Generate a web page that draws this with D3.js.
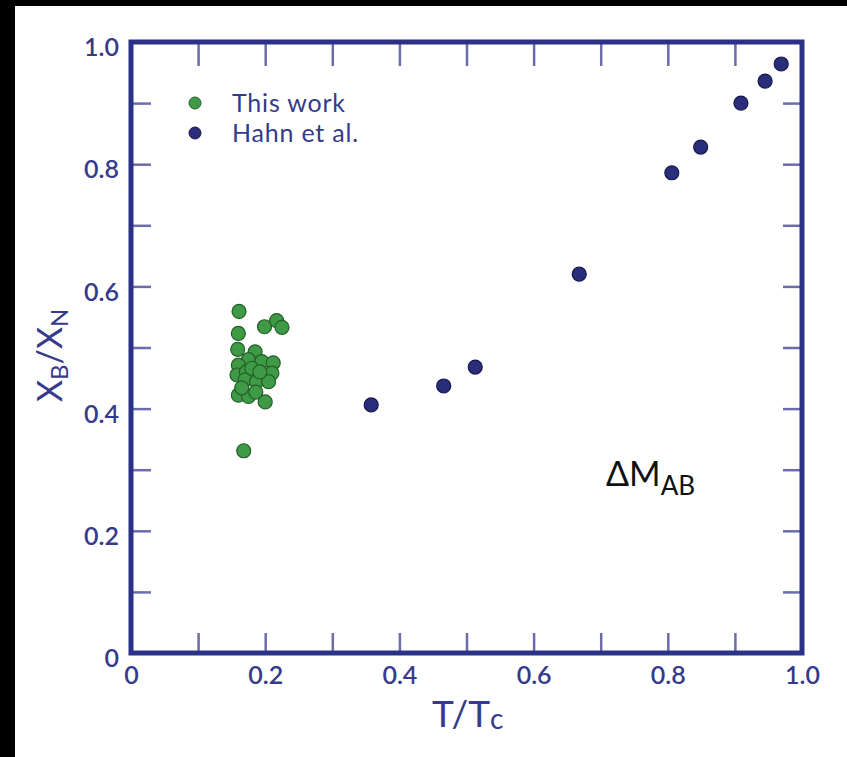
<!DOCTYPE html>
<html>
<head>
<meta charset="utf-8">
<script src="https://cdn.jsdelivr.net/npm/d3@7"></script>
<style>
  html, body { margin: 0; padding: 0; background: #fff; }
  svg { display: block; }
</style>
</head>
<body>
<script>
// data
var thisT = [0.161, 0.199, 0.217, 0.225, 0.160, 0.159, 0.185, 0.175, 0.195, 0.212,
             0.160, 0.158, 0.172, 0.210, 0.170, 0.187, 0.205, 0.160, 0.175, 0.200,
             0.168, 0.180, 0.192, 0.165, 0.186];
var thisX = [0.559, 0.534, 0.544, 0.533, 0.523, 0.497, 0.493, 0.480, 0.477, 0.475,
             0.471, 0.455, 0.460, 0.458, 0.447, 0.444, 0.444, 0.422, 0.420, 0.411,
             0.331, 0.466, 0.460, 0.434, 0.427];
var hahnT = [0.358, 0.466, 0.513, 0.668, 0.806, 0.849, 0.909, 0.945, 0.969];
var hahnX = [0.406, 0.437, 0.468, 0.620, 0.786, 0.828, 0.900, 0.936, 0.964];
var tickVals = [0, 0.1, 0.2, 0.3, 0.4, 0.5, 0.6, 0.7, 0.8, 0.9, 1.0];
var tickLabels = {"0": "0", "0.2": "0.2", "0.4": "0.4", "0.6": "0.6", "0.8": "0.8", "1": "1.0"};
var legendNames = ["This work", "Hahn et al."];

var W = 847, H = 757;
var navy = "#2c3188", tickCol = "#6a6daa", labelCol = "#353a8c";
var green = "#3e9a45", greenEdge = "#245f2a", blue = "#2a2e7a", blueEdge = "#16184a";
var font = "Lato, 'Open Sans', sans-serif";

var svg = d3.select("body").append("svg").attr("width", W).attr("height", H);

// black frame on left and top edges
svg.append("rect").attr("x", 0).attr("y", 0).attr("width", 15).attr("height", H).attr("fill", "#000");
svg.append("rect").attr("x", 0).attr("y", 0).attr("width", W).attr("height", 6).attr("fill", "#000");

var x = d3.scaleLinear().domain([0, 1]).range([131, 802]);
var y = d3.scaleLinear().domain([0, 1]).range([653, 42]);

function fmt(d) {
    var k = String(+d.toFixed(1));
    return tickLabels[k] || "";
}

// inward ticks on all four sides
var axL = svg.append("g").attr("transform", "translate(" + x(0) + ",0)")
    .call(d3.axisLeft(y).tickValues(tickVals).tickSize(-20).tickPadding(12).tickFormat(fmt));
var axR = svg.append("g").attr("transform", "translate(" + x(1) + ",0)")
    .call(d3.axisRight(y).tickValues(tickVals).tickSize(-19).tickFormat(""));
var axB = svg.append("g").attr("transform", "translate(0," + y(0) + ")")
    .call(d3.axisBottom(x).tickValues(tickVals).tickSize(-20).tickPadding(13).tickFormat(fmt));
var axT = svg.append("g").attr("transform", "translate(0," + y(1) + ")")
    .call(d3.axisTop(x).tickValues(tickVals).tickSize(-24).tickFormat(""));

[axL, axR, axB, axT].forEach(function (a) {
    a.select(".domain").remove();
    a.selectAll("line").attr("stroke", tickCol).attr("stroke-width", 2.5);
    a.selectAll("text").attr("fill", labelCol).attr("font-size", "25px")
        .attr("font-family", font).attr("font-weight", 600);
});
axL.selectAll("text").attr("dy", "0.55em");
axB.selectAll("text").attr("dy", "0.72em");

// frame box
svg.append("rect")
    .attr("x", x(0)).attr("y", y(1))
    .attr("width", x(1) - x(0)).attr("height", y(0) - y(1))
    .attr("fill", "none").attr("stroke", navy).attr("stroke-width", 5);

// points
svg.append("g").selectAll("circle")
    .data(d3.range(thisT.length))
    .enter().append("circle")
    .attr("cx", function (i) { return x(thisT[i]); })
    .attr("cy", function (i) { return y(thisX[i]); })
    .attr("r", 7)
    .attr("fill", green).attr("stroke", greenEdge).attr("stroke-width", 1.2);

svg.append("g").selectAll("circle")
    .data(d3.range(hahnT.length))
    .enter().append("circle")
    .attr("cx", function (i) { return x(hahnT[i]); })
    .attr("cy", function (i) { return y(hahnX[i]); })
    .attr("r", 7)
    .attr("fill", blue).attr("stroke", blueEdge).attr("stroke-width", 1.2);

// legend
var leg = svg.append("g");
legendNames.forEach(function (name, i) {
    leg.append("circle").attr("cx", 195).attr("cy", 103 + i * 30).attr("r", 6)
        .attr("fill", i === 0 ? green : blue).attr("stroke", i === 0 ? greenEdge : blueEdge);
    leg.append("text").attr("x", 232).attr("y", 112 + i * 30)
        .attr("fill", labelCol).attr("font-size", "25px").attr("letter-spacing", "0.8px")
        .attr("font-family", font)
        .text(name);
});

// annotation
var ann = svg.append("text").attr("x", 606).attr("y", 486)
    .attr("fill", "#111").attr("font-size", "34px").attr("font-family", font);
ann.append("tspan").text("ΔM");
ann.append("tspan").attr("font-size", "26px").attr("dy", 9).text("AB");

// axis titles
var xt = svg.append("text").attr("x", 432).attr("y", 727)
    .attr("fill", labelCol).attr("font-size", "37px").attr("font-family", font);
xt.append("tspan").text("T/T");
xt.append("tspan").attr("font-size", "28px").attr("dy", 2).text("c");

var yt = svg.append("text")
    .attr("transform", "translate(62,402) rotate(-90)")
    .attr("fill", labelCol).attr("font-size", "34px").attr("font-family", font);
yt.append("tspan").text("X");
yt.append("tspan").attr("font-size", "24px").attr("dy", 6).text("B");
yt.append("tspan").attr("dy", -6).text("/X");
yt.append("tspan").attr("font-size", "24px").attr("dy", 6).text("N");
</script>
</body>
</html>
